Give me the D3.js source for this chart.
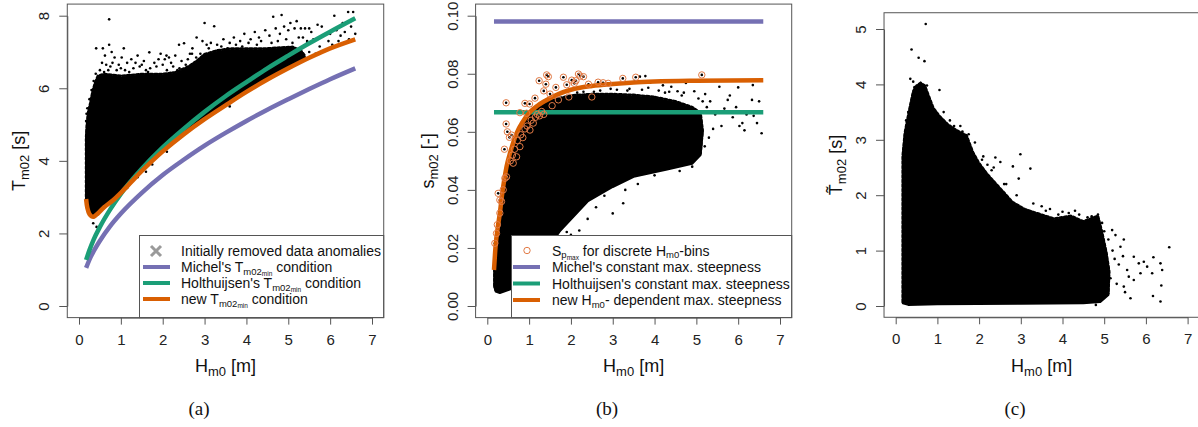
<!DOCTYPE html>
<html><head><meta charset="utf-8">
<script src="https://cdn.jsdelivr.net/npm/d3@7"></script>
<style>body{margin:0;background:#fff}svg{display:block}</style>
</head><body><svg id="c" width="1198" height="427"></svg>
<script>
// ---------------- data ----------------
const H_TICKS = [0,1,2,3,4,5,6,7];
const A_YTICKS = [0,2,4,6,8];
const B_YTICKS = [0,0.02,0.04,0.06,0.08,0.10];
const C_YTICKS = [0,1,2,3,4,5];

// panel (a): T_m02 min conditions
const curveH_a   = [0.17,0.25,0.35,0.5,0.75,1,1.5,2,2.5,3,3.5,4,4.5,5,5.5,6,6.6];
const michelT    = [1.05,1.28,1.51,1.80,2.21,2.55,3.12,3.61,4.03,4.42,4.77,5.10,5.41,5.70,5.98,6.25,6.55];
const holthT     = [1.27,1.54,1.83,2.18,2.67,3.09,3.78,4.37,4.88,5.35,5.78,6.17,6.55,6.90,7.24,7.56,7.93];
const newH_a     = [0.17,0.2,0.25,0.3,0.35,0.45,0.6,0.8,1.0,1.25,1.5,2,2.5,3,3.5,4,4.5,5,5.5,6,6.6];
const newT       = [2.95,2.70,2.53,2.47,2.46,2.55,2.72,2.90,3.12,3.42,3.72,4.26,4.73,5.15,5.53,5.90,6.24,6.55,6.84,7.10,7.35];
// dense point cloud outline (a)
const cloudA_H = [0.17,0.17,0.19,0.22,0.27,0.32,0.38,0.45,0.6,1.0,1.5,2.0,2.3,2.6,2.8,3.0,3.3,3.6,4.0,4.4,4.8,5.1,5.3,5.4,5.4,5.0,4.5,4.0,3.5,3.0,2.5,2.0,1.5,1.0,0.8,0.6,0.45,0.35,0.28,0.22,0.18];
const cloudA_T = [2.85,4.6,5.0,5.3,5.55,5.85,6.1,6.3,6.35,6.3,6.35,6.35,6.4,6.55,6.7,6.9,7.0,7.05,7.05,7.05,7.08,7.1,7.0,6.85,6.85,6.6,6.3,5.95,5.58,5.2,4.77,4.3,3.76,3.16,2.95,2.77,2.6,2.5,2.52,2.62,2.8];
// scattered points (a)
const dotsA_H = [0.72,0.41,0.57,0.72,1.07,3.0,3.23,2.81,2.39,2.51,2.95,2.71,1.68,2.09,4.64,4.84,6.1,6.43,6.55,5.7,5.8,5.3,5.3,5.96,6.2,
  0.55,0.65,0.8,0.95,1.15,1.35,1.5,1.8,2.0,2.2,2.45,1.25,1.9,0.85,2.3,
  0.5,0.7,0.9,1.1,1.3,1.6,1.7,2.1,2.4,2.6,2.8,
  3.3,3.45,3.6,3.7,3.85,3.95,4.1,4.2,4.3,4.45,4.55,4.7,4.8,4.9,5.0,5.05,5.15,5.2,5.3,5.4,5.5,5.35,5.45,
  5.5,5.6,5.65,5.75,5.85,5.9,6.0,6.05,6.15,6.25,6.3,6.35,6.45,6.5,6.6,5.55,6.1,
  0.34,0.42,1.6,1.75,2.1,1.4,1.15,3.6,
  0.17,0.18,0.2,0.25,0.3,0.35,0.4,
  0.6,0.75,1.0,1.2,1.45,1.55,1.65,1.85,2.05,2.25,2.35,2.55,2.7,2.9,3.1,3.15,3.4,3.55,3.75,3.9,4.05,4.25,4.35,4.6,4.75,4.95,5.1,5.25,5.45,
  0.62,0.78,1.02,1.4,1.95,2.15,2.65,3.05];
const dotsA_T = [7.9,7.1,7.1,7.2,7.1,7.8,7.71,7.4,7.2,7.24,7.3,7.1,6.99,6.9,7.97,8.02,8.0,8.1,8.1,7.75,7.7,7.1,6.75,7.3,7.3,
  6.7,6.65,6.7,6.65,6.7,6.7,6.65,6.7,6.65,6.7,6.75,6.8,6.8,6.85,6.9,
  6.5,6.5,6.5,6.5,6.55,6.5,6.55,6.5,6.55,6.8,6.85,
  7.2,7.35,7.25,7.4,7.3,7.5,7.35,7.55,7.4,7.6,7.45,7.65,7.5,7.7,7.6,7.8,7.65,7.85,7.65,7.65,7.65,7.4,7.25,
  7.0,7.35,6.95,7.15,7.45,7.05,7.5,7.2,7.6,7.45,7.8,7.55,7.35,7.7,7.5,7.55,7.15,
  2.28,2.18,3.7,3.9,4.25,3.55,3.25,5.5,
  5.1,5.3,5.45,5.7,5.95,6.2,6.4,
  6.45,6.6,6.55,6.45,6.6,6.75,6.45,6.6,6.8,6.6,6.5,6.65,6.95,6.95,7.1,7.25,7.15,7.1,7.2,7.15,7.25,7.2,7.3,7.25,7.3,7.35,7.25,7.4,7.3,
  6.9,7.0,6.85,6.9,6.95,6.85,6.95,7.2];

// panel (b): steepness
const michelS = 0.098, holthS = 0.0667;
const constH_b = [0.16,6.6];
const newH_b = [0.16,0.2,0.25,0.3,0.35,0.4,0.46,0.55,0.7,0.85,1.0,1.2,1.4,1.7,2.0,2.5,3.0,3.5,4.0,5.0,6.6];
const newS   = [0.0124,0.021,0.027,0.032,0.038,0.043,0.048,0.053,0.0595,0.0635,0.0665,0.069,0.0708,0.073,0.0745,0.0758,0.0765,0.077,0.0773,0.0776,0.0778];
const cloudB_H = [0.17,0.17,0.2,0.25,0.3,0.35,0.4,0.46,0.55,0.7,0.85,1.0,1.2,1.4,1.7,2.0,2.5,3.0,3.5,4.0,4.5,4.9,5.1,5.15,5.1,4.9,4.3,3.5,3.0,2.4,1.75,1.5,1.2,0.9,0.6,0.3,0.2];
const cloudB_S = [0.0065,0.012,0.019,0.026,0.031,0.037,0.042,0.047,0.052,0.058,0.062,0.065,0.0675,0.0695,0.071,0.072,0.0725,0.0725,0.0722,0.0715,0.070,0.068,0.066,0.060,0.052,0.049,0.047,0.0445,0.041,0.036,0.026,0.021,0.015,0.010,0.006,0.0045,0.005];
const dotsB_H = [6.35,6.33,6.37,6.56,6.0,5.55,5.67,5.87,6.03,6.1,5.33,5.21,4.75,5.75,5.95,6.2,6.45,6.5,5.45,5.6,5.3,5.2,5.4,6.15,5.8,4.95,4.4,3.9,3.65,3.78,3.53,4.2,4.55,
  3.25,3.0,2.4,2.2,2.8,3.6,4.0,4.6,4.9,5.0,3.3,2.6,2.0,1.9,
  2.3,2.7,3.1,3.4,3.7,4.1,4.35,4.7,5.05,2.15,2.55,2.95,3.35,3.85,4.25,4.65,5.15,5.25];
const dotsB_S = [0.0761,0.071,0.0655,0.0595,0.0753,0.0755,0.068,0.065,0.062,0.063,0.0705,0.073,0.0768,0.071,0.0685,0.066,0.063,0.0705,0.066,0.062,0.058,0.055,0.061,0.0605,0.0725,0.074,0.0755,0.077,0.079,0.0792,0.0775,0.076,0.074,
  0.0354,0.0319,0.030,0.026,0.038,0.042,0.045,0.0465,0.048,0.051,0.040,0.034,0.0245,0.0255,
  0.0738,0.0742,0.0745,0.0748,0.0745,0.0742,0.0738,0.0735,0.0715,0.0735,0.0738,0.0748,0.0742,0.0752,0.0735,0.0725,0.0705,0.0685];
// S_p,max for discrete H_m0 bins
const circH = [0.45,0.78,0.90,1.01,1.14,1.24,1.42,1.46,1.40,1.35,1.50,1.64,1.82,1.90,2.02,2.18,2.22,2.30,2.12,2.08,2.42,2.65,2.77,2.89,3.24,3.55,5.13,
  0.45,0.48,0.53,0.41,0.58,0.46,0.26,0.30,0.94,1.10,1.02,0.78,0.70,0.62,0.18,0.30,
  0.55,0.6,0.65,0.72,0.8,0.85,0.9,0.95,1.05,1.15,1.2,1.25,1.3,1.35,0.38,0.42,0.34,0.22,0.24,1.55,1.7,2.5,1.95];
const circS = [0.070,0.0666,0.0698,0.0696,0.0716,0.0776,0.0796,0.079,0.0764,0.0741,0.073,0.0753,0.0788,0.0762,0.0778,0.0799,0.0792,0.079,0.0776,0.0767,0.0764,0.0771,0.0769,0.0767,0.0784,0.0788,0.0796,
  0.0627,0.060,0.0581,0.054,0.0589,0.0445,0.0388,0.0365,0.0664,0.063,0.0606,0.0549,0.0514,0.0492,0.0216,0.032,
  0.050,0.052,0.054,0.057,0.059,0.058,0.061,0.062,0.064,0.065,0.066,0.0655,0.067,0.066,0.040,0.044,0.036,0.025,0.028,0.069,0.071,0.072,0.072];

// panel (c)
const cloudC_H = [0.17,0.17,0.22,0.27,0.35,0.42,0.5,0.6,0.7,0.8,0.9,1.05,1.25,1.45,1.7,1.85,2.0,2.2,2.5,2.8,3.1,3.5,3.8,4.2,4.5,4.85,4.95,5.05,5.12,5.1,4.9,4.5,3.0,1.0,0.3];
const cloudC_T = [0.05,2.7,3.1,3.3,3.6,3.85,3.95,4.0,3.95,3.75,3.55,3.4,3.25,3.15,3.05,2.75,2.55,2.35,2.1,1.85,1.72,1.62,1.55,1.6,1.5,1.6,1.3,0.95,0.6,0.2,0.07,0.05,0.04,0.03,0.02];
const dotsC_H = [0.72,0.38,0.55,0.69,0.35,0.42,0.6,0.75,1.05,2.99,3.23,2.39,2.51,2.81,2.95,2.07,2.6,2.3,1.75,1.6,1.4,2.2,3.5,3.7,3.9,4.15,4.4,4.7,4.85,4.95,5.0,5.1,5.2,5.25,5.35,5.15,5.3,4.8,
  6.56,6.39,6.35,6.18,6.03,6.15,6.35,6.17,6.37,5.71,5.83,5.87,5.59,5.71,5.47,5.63,5.39,5.47,5.27,5.19,5.55,5.45,5.95,5.5,
  1.15,1.3,1.55,1.9,2.1,2.35,2.65,2.9,3.3,3.6,4.0,4.3,4.6,0.25,0.3,0.45];
const dotsC_T = [5.09,4.63,4.48,4.42,4.1,4.05,4.0,3.98,3.9,2.74,2.48,2.68,2.6,2.52,2.30,2.64,2.2,2.45,3.1,3.15,3.25,2.55,1.8,1.75,1.65,1.68,1.65,1.62,1.65,1.5,1.35,1.2,1.0,0.85,0.75,0.5,0.4,0.02,
  1.06,0.65,0.77,0.88,0.71,0.59,0.08,0.18,0.37,0.89,0.77,0.59,0.53,0.47,0.35,0.14,1.07,1.20,1.28,1.37,0.65,0.9,0.8,0.25,
  3.5,3.35,3.25,2.95,2.7,2.5,2.2,2.0,1.85,1.72,1.7,1.72,1.6,3.35,3.5,3.95];

// ---------------- drawing ----------------
const svg = d3.select("#c");
const FONT = "'Liberation Sans', Arial, Helvetica, sans-serif";
const SERIF = "'Liberation Serif', 'DejaVu Serif', serif";
const COL = {purple:"#7570B3", green:"#1B9E77", orange:"#D95F02", circ:"#E27A45", grey:"#9a9a9a", axis:"#555"};
const zip = (a,b) => a.map((v,i)=>[v,b[i]]);
const LF = 14; // legend font size

function subText(parent, x, y, parts, opts={}) {
  const t = parent.append("text").attr("x", x).attr("y", y)
    .attr("font-family", FONT).attr("fill", "#111")
    .attr("text-anchor", opts.anchor || "start");
  if (opts.transform) t.attr("transform", opts.transform);
  parts.forEach(p => {
    const ts = t.append("tspan").text(p.t).attr("font-size", p.s);
    if (p.dy) ts.attr("dy", p.dy);
  });
  return t;
}

function makePanel(cfg, id) {
  const x = d3.scaleLinear().domain([0,7]).range(cfg.xr);
  const y = d3.scaleLinear().domain(cfg.yd).range(cfg.yr);
  const bx0 = x(-0.28), bx1 = x(7.28);
  const by1 = y(cfg.ylo - 0.04*(cfg.yhi-cfg.ylo)), by0 = y(cfg.yhi + 0.04*(cfg.yhi-cfg.ylo));
  const g = svg.append("g");
  svg.append("clipPath").attr("id", "clip"+id).append("rect")
    .attr("x", bx0).attr("y", by0).attr("width", bx1-bx0).attr("height", by1-by0);
  const plot = g.append("g").attr("clip-path", `url(#clip${id})`);
  const xa = g.append("g").attr("transform", `translate(0,${by1})`)
    .call(d3.axisBottom(x).tickValues(H_TICKS).tickSize(7).tickSizeOuter(0).tickPadding(9.5).tickFormat(d3.format("d")));
  xa.attr("font-family", FONT).attr("font-size", 15);
  xa.selectAll("path,line").attr("stroke", COL.axis);
  xa.selectAll("text").attr("fill", "#222");
  const ya = g.append("g").attr("transform", `translate(${bx0},0)`)
    .call(d3.axisLeft(y).tickValues(cfg.yticks).tickSize(8).tickSizeOuter(0).tickFormat(cfg.yfmt));
  ya.attr("font-family", FONT).attr("font-size", 15);
  ya.selectAll("path,line").attr("stroke", COL.axis);
  ya.selectAll("text").attr("transform", "rotate(-90)").attr("x", 0).attr("y", -18)
    .attr("dy", 0).attr("text-anchor", "middle").attr("fill", "#222");
  const cx = (bx0+bx1)/2;
  subText(g, cx, 372, [{t:"H", s:18},{t:"m0", s:13, dy:4},{t:" [m]", s:18, dy:-4}], {anchor:"middle"});
  g.append("text").attr("x", cfg.cap[0]).attr("y", 415).attr("text-anchor","middle")
    .attr("font-family", SERIF).attr("font-size", 19).attr("fill","#111").text(cfg.caption);
  const cy = (by0+by1)/2;
  subText(g, 0, 0, cfg.ylab, {anchor:"middle", transform:`translate(${bx0-42},${cy}) rotate(-90)`});
  return {x, y, g, plot, bx0, bx1, by0, by1};
}

const line = (x,y) => d3.line().x(d=>x(d[0])).y(d=>y(d[1]));
const closedArea = (x,y) => d3.line().x(d=>x(d[0])).y(d=>y(d[1])).curve(d3.curveLinearClosed);

function dots(plot, x, y, pts, r=1.3) {
  plot.append("g").selectAll("circle").data(pts).join("circle")
    .attr("cx", d=>x(d[0])).attr("cy", d=>y(d[1])).attr("r", r).attr("fill", "#000");
}
function cloud(plot, x, y, pts) {
  plot.append("path").datum(pts).attr("d", closedArea(x,y))
    .attr("fill", "#000").attr("stroke", "#000").attr("stroke-width", 2).attr("stroke-linejoin","round");
  plot.append("path").datum(pts).attr("d", closedArea(x,y))
    .attr("fill", "none").attr("stroke", "#000").attr("stroke-width", 2.6)
    .attr("stroke-dasharray", "2.4 2.2").attr("stroke-linecap","round")
    .attr("transform", "translate(0,-1.5)");
}
function curve(plot, x, y, pts, col) {
  plot.append("path").datum(pts).attr("d", line(x,y).curve(d3.curveMonotoneX))
    .attr("fill","none").attr("stroke", col).attr("stroke-width", 4.5);
}
function box(p) {
  p.g.append("rect").attr("x", p.bx0).attr("y", p.by0).attr("width", p.bx1-p.bx0).attr("height", p.by1-p.by0)
    .attr("fill","none").attr("stroke", COL.axis).attr("stroke-width", 1);
}

// ----- panel a -----
const A = makePanel({xr:[79,372], yd:[0,8], yr:[306,15.7], ylo:0, yhi:8, yticks:A_YTICKS, yfmt:d3.format("d"),
  caption:"(a)", cap:[199,415],
  ylab:[{t:"T", s:18},{t:"m02", s:13, dy:4},{t:" [s]", s:18, dy:-4}]}, "a");
cloud(A.plot, A.x, A.y, zip(cloudA_H, cloudA_T));
dots(A.plot, A.x, A.y, zip(dotsA_H, dotsA_T));
curve(A.plot, A.x, A.y, zip(curveH_a, michelT), COL.purple);
curve(A.plot, A.x, A.y, zip(curveH_a, holthT), COL.green);
A.plot.append("path").datum(zip(newH_a, newT)).attr("d", line(A.x,A.y).curve(d3.curveCatmullRom))
  .attr("fill","none").attr("stroke", COL.orange).attr("stroke-width", 4.5);
{
  const lg = A.g.append("g");
  lg.append("rect").attr("x", 139.5).attr("y", 235.5).attr("width", A.bx1-139.5).attr("height", A.by1-235.5)
    .attr("fill","#fff").attr("stroke", COL.axis);
  const rows = [251, 267, 283, 299];
  lg.append("path").attr("d", `M151,${rows[0]-5}L161,${rows[0]+5}M151,${rows[0]+5}L161,${rows[0]-5}`)
    .attr("stroke", COL.grey).attr("stroke-width", 3);
  [COL.purple, COL.green, COL.orange].forEach((c,i)=>{
    lg.append("line").attr("x1",143).attr("x2",170).attr("y1",rows[i+1]).attr("y2",rows[i+1])
      .attr("stroke", c).attr("stroke-width", 4);
  });
  const tmin = [{t:"T", s:LF},{t:"m02", s:9.5, dy:2.5},{t:"min", s:6.5, dy:1.5}];
  subText(lg, 181, rows[0]+5, [{t:"Initially removed data anomalies", s:LF}]);
  subText(lg, 181, rows[1]+5, [{t:"Michel's ", s:LF}, ...tmin, {t:" condition", s:LF, dy:-4}]);
  subText(lg, 181, rows[2]+5, [{t:"Holthuijsen's ", s:LF}, ...tmin, {t:" condition", s:LF, dy:-4}]);
  subText(lg, 181, rows[3]+5, [{t:"new ", s:LF}, ...tmin, {t:" condition", s:LF, dy:-4}]);
}
box(A);

// ----- panel b -----
const B = makePanel({xr:[487.3,780], yd:[0,0.1], yr:[306,15.7], ylo:0, yhi:0.1, yticks:B_YTICKS, yfmt:d3.format(".2f"),
  caption:"(b)", cap:[607,415],
  ylab:[{t:"s", s:18},{t:"m02", s:13, dy:4},{t:" [-]", s:18, dy:-4}]}, "b");
cloud(B.plot, B.x, B.y, zip(cloudB_H, cloudB_S));
dots(B.plot, B.x, B.y, zip(dotsB_H, dotsB_S));
dots(B.plot, B.x, B.y, zip(circH, circS));
B.plot.append("path").datum(constH_b.map(h=>[h, michelS])).attr("d", line(B.x,B.y))
  .attr("stroke", COL.purple).attr("stroke-width", 4.5).attr("fill","none");
B.plot.append("path").datum(constH_b.map(h=>[h, holthS])).attr("d", line(B.x,B.y))
  .attr("stroke", COL.green).attr("stroke-width", 4.5).attr("fill","none");
B.plot.append("path").datum(zip(newH_b, newS)).attr("d", line(B.x,B.y).curve(d3.curveMonotoneX))
  .attr("stroke", COL.orange).attr("stroke-width", 4.5).attr("fill","none");
B.plot.append("g").selectAll("circle").data(zip(circH, circS)).join("circle")
  .attr("cx", d=>B.x(d[0])).attr("cy", d=>B.y(d[1])).attr("r", 3.2)
  .attr("fill","none").attr("stroke", COL.circ).attr("stroke-width", 1);
{
  const lg = B.g.append("g");
  lg.append("rect").attr("x", 511.5).attr("y", 235.5).attr("width", B.bx1-511.5).attr("height", B.by1-235.5)
    .attr("fill","#fff").attr("stroke", COL.axis);
  const rows = [250.5, 267, 283.5, 300];
  lg.append("circle").attr("cx", 527).attr("cy", rows[0]).attr("r", 3.2).attr("fill","none")
    .attr("stroke", COL.circ).attr("stroke-width", 1);
  [COL.purple, COL.green, COL.orange].forEach((c,i)=>{
    lg.append("line").attr("x1",513).attr("x2",540).attr("y1",rows[i+1]).attr("y2",rows[i+1])
      .attr("stroke", c).attr("stroke-width", 4);
  });
  subText(lg, 552, rows[0]+5, [{t:"S", s:LF},{t:"p", s:9.5, dy:2.5},{t:"max", s:6.5, dy:1.5},
    {t:" for discrete H", s:LF, dy:-4},{t:"m0", s:9.5, dy:2.5},{t:"-bins", s:LF, dy:-2.5}]);
  subText(lg, 552, rows[1]+5, [{t:"Michel's constant max. steepness", s:LF}]);
  subText(lg, 552, rows[2]+5, [{t:"Holthuijsen's constant max. steepness", s:LF}]);
  subText(lg, 552, rows[3]+5, [{t:"new H", s:LF},{t:"m0", s:9.5, dy:2.5},{t:"- dependent max. steepness", s:LF, dy:-2.5}]);
}
box(B);

// ----- panel c -----
const C = makePanel({xr:[895.7,1187.6], yd:[0,5], yr:[306,29], ylo:0, yhi:5.09, yticks:C_YTICKS, yfmt:d3.format("d"),
  caption:"(c)", cap:[1015,415],
  ylab:[{t:"T\u0303", s:18},{t:"m02", s:13, dy:4},{t:" [s]", s:18, dy:-4}]}, "c");
cloud(C.plot, C.x, C.y, zip(cloudC_H, cloudC_T));
dots(C.plot, C.x, C.y, zip(dotsC_H, dotsC_T));
box(C);
</script></body></html>
